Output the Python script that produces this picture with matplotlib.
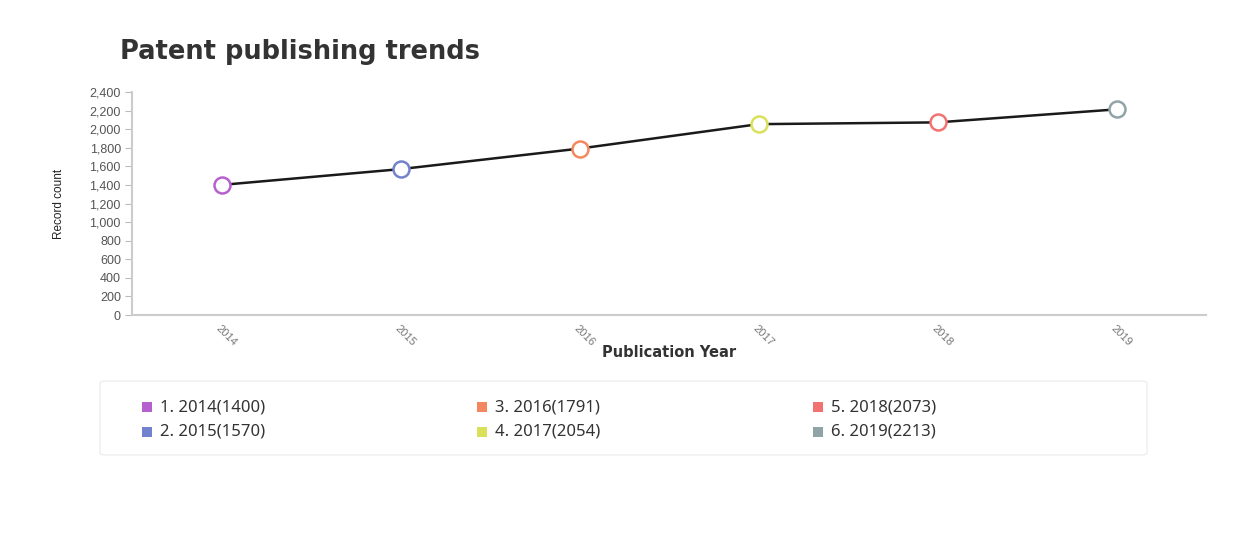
import numpy as np
import matplotlib
matplotlib.use("Agg")
import matplotlib.pyplot as plt
from matplotlib.patches import FancyBboxPatch, Rectangle

years = ["2014", "2015", "2016", "2017", "2018", "2019"]
counts = [1400, 1570, 1791, 2054, 2073, 2213]
colors = ["#b65fcf", "#7282cc", "#f4875e", "#d9e05a", "#f27272", "#90a4a8"]
yticks = [0, 200, 400, 600, 800, 1000, 1200, 1400, 1600, 1800, 2000, 2200, 2400]

W, H = 1249, 557
fig = plt.figure(figsize=(W / 100, H / 100), dpi=100)
ax = fig.add_axes([132 / W, 1 - 315 / H, (1206 - 132) / W, (315 - 92) / H])

x = np.arange(len(years))
ax.plot(x, counts, color="#1a1a1a", lw=1.8, zorder=2)
for xi, c, col in zip(x, counts, colors):
    ax.plot(xi, c, marker="o", ms=11.5, mfc="white", mec=col, mew=1.8, zorder=3)

ax.set_xlim(-0.5, len(years) - 0.5)
ax.set_ylim(0, 2400)
ax.set_yticks(yticks)
ax.set_yticklabels([f"{v:,}" for v in yticks], fontsize=9, color="#555555",
                   family="Liberation Sans")
ax.set_xticks(x)
ax.set_xticklabels(years, rotation=-45, ha="left", va="top", fontsize=8,
                   color="#777777", family="Liberation Sans", rotation_mode="anchor")
ax.tick_params(axis="y", length=5, color="#bbbbbb", pad=3)
ax.tick_params(axis="x", length=0, pad=6)
for s in ["top", "right"]:
    ax.spines[s].set_visible(False)
ax.spines["left"].set_color("#cccccc")
ax.spines["bottom"].set_color("#cccccc")
ax.spines["left"].set_linewidth(1.5)
ax.spines["bottom"].set_linewidth(1.5)

ax.set_ylabel("Record count", fontsize=8.5, family="Liberation Sans", color="#222222", labelpad=18)
ax.set_xlabel("Publication Year", fontsize=10.5, fontweight="bold", color="#333333", labelpad=-2)

fig.text(120 / W, 1 - 52 / H, "Patent publishing trends", fontsize=18.5, fontweight="bold",
         color="#333333", va="center", ha="left")

# legend panel
box = FancyBboxPatch((100 / W, 1 - 455 / H), (1147 - 100) / W, (455 - 381) / H,
                     boxstyle="round,pad=0,rounding_size=0.004", transform=fig.transFigure,
                     facecolor="white", edgecolor="#eeeeee", lw=1)
fig.patches.append(box)
col_x = [147, 482, 818]
row_y = [407, 432]
for i, (yr, c, col) in enumerate(zip(years, counts, colors)):
    cx = col_x[i // 2]
    cy = row_y[i % 2]
    fig.patches.append(Rectangle(((cx - 5) / W, 1 - (cy + 5) / H), 10 / W, 10 / H,
                                 transform=fig.transFigure, facecolor=col, edgecolor="none"))
    fig.text((cx + 13) / W, 1 - cy / H, f"{i + 1}. {yr}({c})", fontsize=12,
             color="#333333", va="center", ha="left", family="Noto Sans")

fig.savefig("out.png", dpi=100, facecolor="white")
